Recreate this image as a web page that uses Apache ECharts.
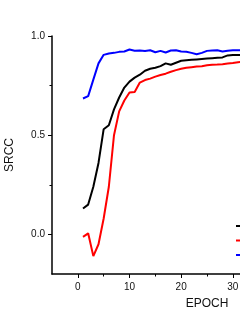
<!DOCTYPE html>
<html><head><meta charset="utf-8">
<script src="https://cdn.jsdelivr.net/npm/echarts@6/dist/echarts.min.js"></script>
<style>html,body{margin:0;padding:0;background:#fff}#c{width:240px;height:310px}</style>
</head><body><div id="c"></div>
<script>
var epochs = [1,2,3,4,5,6,7,8,9,10,11,12,13,14,15,16,17,18,19,20,21,22,23,24,25,26,27,28,29,30,31,32];
var blackSeries = [0.13,0.15,0.24,0.36,0.53,0.55,0.63,0.69,0.74,0.77,0.79,0.805,0.825,0.835,0.84,0.848,0.862,0.855,0.865,0.875,0.878,0.88,0.882,0.884,0.886,0.888,0.89,0.892,0.902,0.904,0.904,0.904];
var redSeries = [-0.013,0.005,-0.11,-0.05,0.08,0.24,0.5,0.62,0.675,0.715,0.718,0.765,0.778,0.785,0.795,0.803,0.81,0.82,0.828,0.835,0.84,0.843,0.846,0.848,0.852,0.855,0.856,0.858,0.861,0.864,0.868,0.87];
var blueSeries = [0.685,0.697,0.78,0.862,0.905,0.912,0.915,0.92,0.922,0.932,0.926,0.927,0.924,0.928,0.918,0.925,0.917,0.927,0.928,0.922,0.921,0.915,0.908,0.915,0.925,0.927,0.928,0.922,0.926,0.928,0.928,0.928];
var seriesNames = ['Train','Validation','Test'];
var xMajorTicks = [0,10,20,30,40,50];
var xMinorTicks = [5,15,25,35,45];
var yMajorTicks = [0,0.5,1.0];
var yMinorTicks = [0.25,0.75];

function pairs(vals){ return epochs.map(function(e,i){ return [e, vals[i]]; }); }

var font = 'Liberation Sans, Arial, sans-serif';
var chart = echarts.init(document.getElementById('c'), null, {renderer:'canvas'});
chart.setOption({
  animation:false,
  backgroundColor:'#fff',
  grid:{left:52, top:36, width:310, height:238, containLabel:false, outerBoundsMode:'none'},
  legend:{
    orient:'vertical', left:235, top:221, padding:0, itemGap:4.5,
    itemWidth:20, itemHeight:10,
    textStyle:{fontSize:10, fontFamily:font, color:'#000'},
    data:seriesNames
  },
  xAxis:[{
    type:'value', min:-5, max:55,
    name:'EPOCH', nameLocation:'middle', nameGap:24,
    nameTextStyle:{fontSize:12, fontFamily:font, color:'#111'},
    axisLine:{show:true, onZero:false, lineStyle:{color:'#000', width:1.5}},
    axisTick:{show:true, inside:false, length:4, customValues:xMajorTicks, lineStyle:{color:'#000', width:1}},
    axisLabel:{customValues:xMajorTicks, margin:8, fontSize:10, fontFamily:font, color:'#111'},
    splitLine:{show:false}
  },{
    type:'value', min:-5, max:55, position:'bottom',
    axisLine:{show:false, onZero:false},
    axisTick:{show:true, length:2.5, customValues:xMinorTicks, lineStyle:{color:'#000', width:1}},
    axisLabel:{show:false}, splitLine:{show:false}
  }],
  yAxis:[{
    type:'value', min:-0.2, max:1.0,
    name:'SRCC', nameLocation:'middle', nameGap:36, nameRotate:90,
    nameTextStyle:{fontSize:12, fontFamily:font, color:'#111'},
    axisLine:{show:true, onZero:false, lineStyle:{color:'#000', width:1.5}},
    axisTick:{show:true, length:4, customValues:yMajorTicks, lineStyle:{color:'#000', width:1}},
    axisLabel:{customValues:yMajorTicks, margin:7, fontSize:10, fontFamily:font, color:'#111',
      formatter:function(v){ return v.toFixed(1); }},
    splitLine:{show:false}
  },{
    type:'value', min:-0.2, max:1.0, position:'left',
    axisLine:{show:false, onZero:false},
    axisTick:{show:true, length:2.5, customValues:yMinorTicks, lineStyle:{color:'#000', width:1}},
    axisLabel:{show:false}, splitLine:{show:false}
  }],
  series:[
    {name:seriesNames[0], type:'line', data:pairs(blackSeries), symbol:'none', lineStyle:{color:'#000000', width:2}, itemStyle:{color:'#000000'}},
    {name:seriesNames[1], type:'line', data:pairs(redSeries), symbol:'none', lineStyle:{color:'#ff0000', width:2}, itemStyle:{color:'#ff0000'}},
    {name:seriesNames[2], type:'line', data:pairs(blueSeries), symbol:'none', lineStyle:{color:'#0000ff', width:2}, itemStyle:{color:'#0000ff'}}
  ]
});
</script></body></html>
